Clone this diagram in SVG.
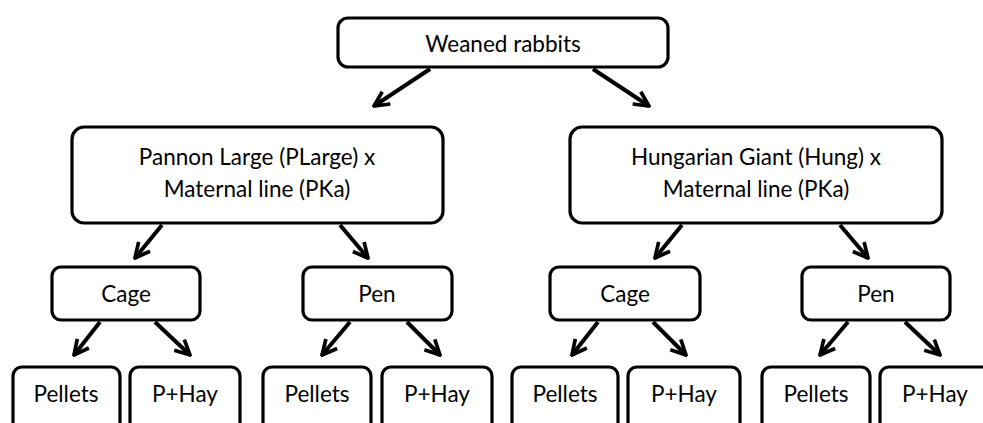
<svg xmlns="http://www.w3.org/2000/svg" width="983" height="423" viewBox="0 0 983 423">
<style>
.box{fill:#fff;stroke:#000;stroke-width:3.2}
.t{font-family:Lato,"Open Sans","Liberation Sans",sans-serif;font-size:22.5px;fill:#000;text-anchor:middle}
.c{stroke:#000;stroke-width:4;fill:none;marker-end:url(#ah)}
</style>
<defs>
<marker id="ah" viewBox="0 0 10 10" refX="9" refY="5" markerWidth="4.6" markerHeight="4.6" orient="auto" markerUnits="strokeWidth">
<path d="M1,1 L9,5 L1,9" fill="none" stroke="#000" stroke-width="2" stroke-linejoin="miter"/>
</marker>
</defs>
<g id="connectors">
<line class="c" x1="430" y1="69" x2="374" y2="106"/>
<line class="c" x1="593" y1="69" x2="649" y2="106"/>
<line class="c" x1="162" y1="225" x2="135" y2="258"/>
<line class="c" x1="340" y1="225" x2="368" y2="258"/>
<line class="c" x1="682" y1="225" x2="655" y2="258"/>
<line class="c" x1="840" y1="225" x2="868" y2="258"/>
<line class="c" x1="100" y1="322" x2="74" y2="355"/>
<line class="c" x1="155" y1="322" x2="190" y2="355"/>
<line class="c" x1="350" y1="322" x2="322" y2="355"/>
<line class="c" x1="407" y1="322" x2="440" y2="355"/>
<line class="c" x1="598" y1="322" x2="572" y2="355"/>
<line class="c" x1="653" y1="322" x2="686" y2="355"/>
<line class="c" x1="848" y1="322" x2="820" y2="355"/>
<line class="c" x1="905" y1="322" x2="940" y2="355"/>
</g>
<g id="root"><rect class="box" x="338" y="18" width="330" height="49" rx="10"/><text class="t" x="503" y="52">Weaned rabbits</text></g>
<g id="plarge"><rect class="box" x="72" y="127" width="371" height="96" rx="12"/><text class="t" x="257" y="165">Pannon Large (PLarge) x</text><text class="t" x="257" y="197">Maternal line (PKa)</text></g>
<g id="hung"><rect class="box" x="570" y="127" width="372" height="96" rx="12"/><text class="t" x="756" y="165">Hungarian Giant (Hung) x</text><text class="t" x="756" y="197">Maternal line (PKa)</text></g>
<g id="cage1"><rect class="box" x="52" y="267" width="148" height="53" rx="9"/><text class="t" x="126" y="302">Cage</text></g>
<g id="pen1"><rect class="box" x="303" y="267" width="149" height="53" rx="9"/><text class="t" x="377" y="302">Pen</text></g>
<g id="cage2"><rect class="box" x="550" y="267" width="150" height="53" rx="9"/><text class="t" x="625" y="302">Cage</text></g>
<g id="pen2"><rect class="box" x="802" y="267" width="148" height="53" rx="9"/><text class="t" x="876" y="302">Pen</text></g>
<g id="pel1"><rect class="box" x="13" y="367" width="107" height="70" rx="9"/><text class="t" x="66" y="402">Pellets</text></g>
<g id="hay1"><rect class="box" x="130" y="367" width="110" height="70" rx="9"/><text class="t" x="185" y="402">P+Hay</text></g>
<g id="pel2"><rect class="box" x="263" y="367" width="108" height="70" rx="9"/><text class="t" x="317" y="402">Pellets</text></g>
<g id="hay2"><rect class="box" x="382" y="367" width="110" height="70" rx="9"/><text class="t" x="437" y="402">P+Hay</text></g>
<g id="pel3"><rect class="box" x="512" y="367" width="106" height="70" rx="9"/><text class="t" x="565" y="402">Pellets</text></g>
<g id="hay3"><rect class="box" x="628" y="367" width="112" height="70" rx="9"/><text class="t" x="684" y="402">P+Hay</text></g>
<g id="pel4"><rect class="box" x="762" y="367" width="108" height="70" rx="9"/><text class="t" x="816" y="402">Pellets</text></g>
<g id="hay4"><rect class="box" x="880" y="367" width="112" height="70" rx="9"/><text class="t" x="935" y="402">P+Hay</text></g>
</svg>
